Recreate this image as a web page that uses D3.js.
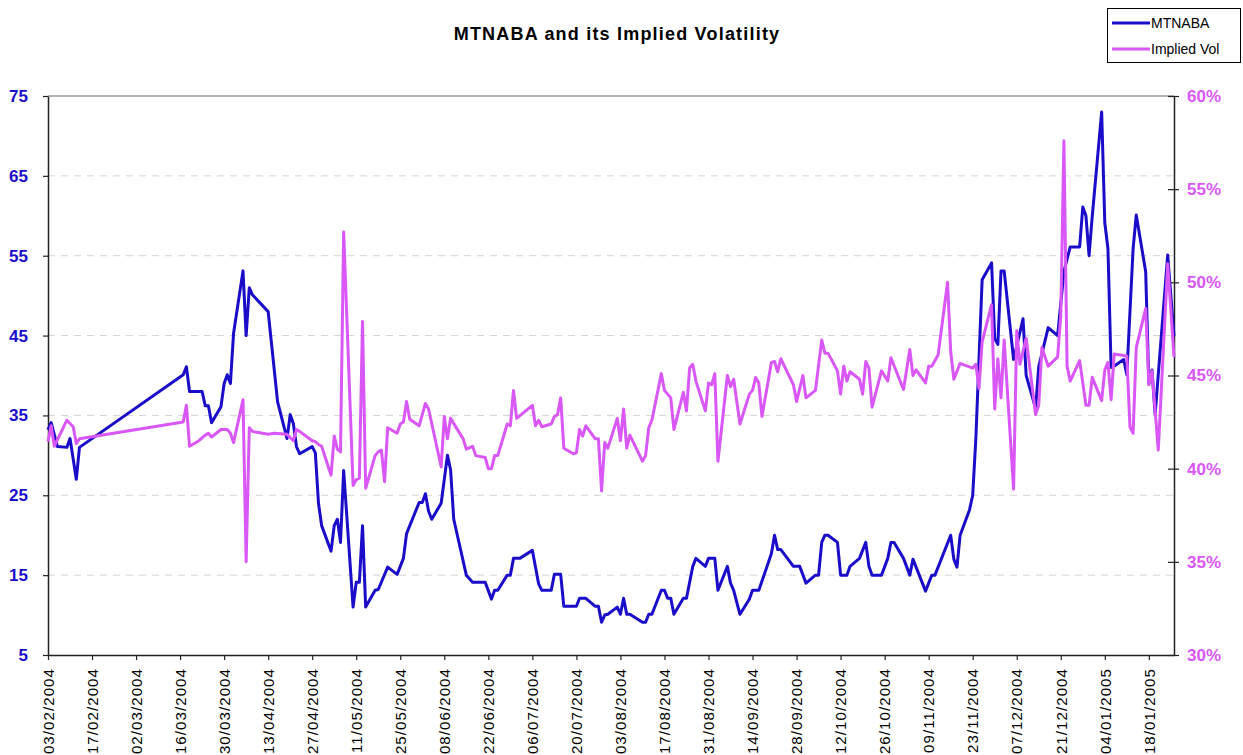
<!DOCTYPE html>
<html>
<head>
<meta charset="utf-8">
<script src="https://cdn.jsdelivr.net/npm/d3@7/dist/d3.min.js"></script>
<style>
  body { margin: 0; background: #fff; }
  svg { font-family: "Liberation Sans", Arial, sans-serif; }
</style>
</head>
<body>
<div id="chart"></div>
<script>
// MTNABA price (left axis)
var priceData = [
  ["2004-02-03",33.2],["2004-02-04",34.1],["2004-02-06",31.1],["2004-02-09",31.0],["2004-02-10",32.1],["2004-02-12",27.0],["2004-02-13",31.0],
  ["2004-03-17",40.1],["2004-03-18",41.1],["2004-03-19",38.0],["2004-03-23",38.0],["2004-03-24",36.2],["2004-03-25",36.2],["2004-03-26",34.1],["2004-03-29",36.1],["2004-03-30",39.0],["2004-03-31",40.1],
  ["2004-04-01",39.0],["2004-04-02",45.3],["2004-04-05",53.1],["2004-04-06",45.0],["2004-04-07",51.0],["2004-04-08",50.1],["2004-04-13",48.0],["2004-04-16",36.7],["2004-04-19",32.1],["2004-04-20",35.1],["2004-04-21",34.0],["2004-04-22",31.1],["2004-04-23",30.2],["2004-04-27",31.1],["2004-04-28",30.3],["2004-04-29",24.0],["2004-04-30",21.2],
  ["2004-05-03",18.0],["2004-05-04",21.2],["2004-05-05",22.0],["2004-05-06",19.1],["2004-05-07",28.1],["2004-05-10",11.0],["2004-05-11",14.1],["2004-05-12",14.1],["2004-05-13",21.2],["2004-05-14",11.0],["2004-05-17",13.1],["2004-05-18",13.2],["2004-05-21",16.0],["2004-05-24",15.1],["2004-05-26",17.1],["2004-05-27",20.2],["2004-05-31",24.1],
  ["2004-06-01",24.1],["2004-06-02",25.2],["2004-06-03",23.0],["2004-06-04",22.0],["2004-06-07",24.0],["2004-06-09",30.0],["2004-06-10",28.2],["2004-06-11",22.0],["2004-06-15",15.0],["2004-06-17",14.1],["2004-06-21",14.1],["2004-06-23",12.0],["2004-06-24",13.1],["2004-06-25",13.1],["2004-06-28",15.0],["2004-06-29",15.0],["2004-06-30",17.1],
  ["2004-07-02",17.1],["2004-07-06",18.1],["2004-07-07",16.0],["2004-07-08",13.9],["2004-07-09",13.1],["2004-07-12",13.1],["2004-07-13",15.1],["2004-07-15",15.1],["2004-07-16",11.1],["2004-07-20",11.1],["2004-07-21",12.1],["2004-07-23",12.1],["2004-07-26",11.1],["2004-07-27",11.1],["2004-07-28",9.1],["2004-07-29",10.0],["2004-07-30",10.1],
  ["2004-08-02",11.0],["2004-08-03",10.1],["2004-08-04",12.1],["2004-08-05",10.1],["2004-08-06",10.1],["2004-08-10",9.1],["2004-08-11",9.1],["2004-08-12",10.1],["2004-08-13",10.1],["2004-08-16",13.1],["2004-08-17",13.1],["2004-08-18",12.1],["2004-08-19",12.1],["2004-08-20",10.1],["2004-08-23",12.1],["2004-08-24",12.1],["2004-08-26",16.1],["2004-08-27",17.1],["2004-08-30",16.1],["2004-08-31",17.1],
  ["2004-09-02",17.1],["2004-09-03",13.1],["2004-09-06",16.1],["2004-09-07",14.0],["2004-09-08",13.1],["2004-09-10",10.1],["2004-09-13",12.0],["2004-09-14",13.1],["2004-09-16",13.1],["2004-09-20",17.7],["2004-09-21",20.0],["2004-09-22",18.2],["2004-09-23",18.2],["2004-09-27",16.1],["2004-09-29",16.1],
  ["2004-10-01",14.0],["2004-10-04",15.0],["2004-10-05",15.0],["2004-10-06",19.1],["2004-10-07",20.0],["2004-10-08",20.0],["2004-10-11",19.1],["2004-10-12",15.0],["2004-10-14",15.0],["2004-10-15",16.1],["2004-10-18",17.1],["2004-10-20",19.1],["2004-10-21",16.1],["2004-10-22",15.0],["2004-10-25",15.0],["2004-10-27",17.1],["2004-10-28",19.1],["2004-10-29",19.1],
  ["2004-11-01",17.1],["2004-11-03",15.0],["2004-11-04",17.0],["2004-11-08",13.0],["2004-11-10",15.0],["2004-11-11",15.0],["2004-11-16",20.0],["2004-11-17",17.0],["2004-11-18",16.0],["2004-11-19",20.0],["2004-11-22",23.2],["2004-11-23",25.0],["2004-11-24",32.1],["2004-11-26",52.0],["2004-11-29",54.1],["2004-11-30",44.6],
  ["2004-12-01",43.9],["2004-12-02",53.1],["2004-12-03",53.1],["2004-12-06",42.0],["2004-12-09",47.1],["2004-12-10",40.0],["2004-12-13",35.9],["2004-12-14",41.1],["2004-12-17",46.0],["2004-12-20",45.0],["2004-12-22",53.0],["2004-12-24",56.1],["2004-12-27",56.1],["2004-12-28",61.1],["2004-12-29",60.0],["2004-12-30",55.0],["2004-12-31",59.9],
  ["2005-01-03",73.0],["2005-01-04",59.1],["2005-01-05",55.9],["2005-01-06",41.0],["2005-01-07",41.2],["2005-01-10",42.0],["2005-01-11",40.1],["2005-01-13",55.9],["2005-01-14",60.1],["2005-01-17",53.0],["2005-01-18",39.0],["2005-01-19",40.7],["2005-01-20",35.1],["2005-01-24",55.1],["2005-01-26",44.9]
];

// implied vol in % (right axis)
var volData = [
  ["2004-02-03",41.45],["2004-02-04",42.3],["2004-02-05",41.2],["2004-02-09",42.6],["2004-02-11",42.25],["2004-02-12",41.35],["2004-02-13",41.6],
  ["2004-03-17",42.5],["2004-03-18",43.4],["2004-03-19",41.2],["2004-03-22",41.5],["2004-03-24",41.8],["2004-03-25",41.9],["2004-03-26",41.7],["2004-03-29",42.1],["2004-03-31",42.1],
  ["2004-04-01",41.9],["2004-04-02",41.4],["2004-04-05",43.7],["2004-04-06",35.0],["2004-04-07",42.2],["2004-04-08",42.0],["2004-04-13",41.85],["2004-04-15",41.9],["2004-04-19",41.85],["2004-04-21",41.5],["2004-04-22",42.1],["2004-04-23",42.0],["2004-04-27",41.5],["2004-04-28",41.45],["2004-04-29",41.3],["2004-04-30",41.2],
  ["2004-05-03",39.65],["2004-05-04",41.75],["2004-05-05",41.05],["2004-05-06",40.9],["2004-05-07",52.7],["2004-05-10",39.1],["2004-05-11",39.4],["2004-05-12",39.5],["2004-05-13",47.9],["2004-05-14",38.95],["2004-05-17",40.7],["2004-05-18",40.9],["2004-05-19",41.0],["2004-05-20",39.3],["2004-05-21",42.2],["2004-05-24",41.9],["2004-05-25",42.4],["2004-05-26",42.5],["2004-05-27",43.6],["2004-05-28",42.65],["2004-05-31",42.3],
  ["2004-06-02",43.5],["2004-06-03",43.2],["2004-06-07",40.1],["2004-06-08",42.8],["2004-06-09",41.6],["2004-06-10",42.7],["2004-06-14",41.6],["2004-06-15",41.05],["2004-06-17",41.2],["2004-06-18",40.7],["2004-06-21",40.6],["2004-06-22",40.0],["2004-06-23",40.0],["2004-06-24",40.7],["2004-06-25",40.7],["2004-06-28",42.4],["2004-06-29",42.3],["2004-06-30",44.2],
  ["2004-07-01",42.7],["2004-07-06",43.4],["2004-07-07",42.3],["2004-07-08",42.6],["2004-07-09",42.25],["2004-07-12",42.4],["2004-07-13",42.8],["2004-07-14",42.9],["2004-07-15",43.8],["2004-07-16",41.1],["2004-07-19",40.8],["2004-07-20",40.85],["2004-07-21",42.1],["2004-07-22",41.75],["2004-07-23",42.3],["2004-07-26",41.6],["2004-07-27",41.6],["2004-07-28",38.8],["2004-07-29",41.4],["2004-07-30",41.1],
  ["2004-08-02",42.7],["2004-08-03",41.5],["2004-08-04",43.2],["2004-08-05",41.1],["2004-08-06",41.8],["2004-08-10",40.4],["2004-08-11",40.7],["2004-08-12",42.2],["2004-08-13",42.6],["2004-08-16",45.1],["2004-08-17",44.2],["2004-08-19",43.8],["2004-08-20",42.1],["2004-08-23",44.1],["2004-08-24",43.1],["2004-08-25",45.4],["2004-08-26",45.6],["2004-08-27",44.7],["2004-08-30",43.1],["2004-08-31",44.6],
  ["2004-09-01",44.5],["2004-09-02",45.1],["2004-09-03",40.4],["2004-09-06",45.0],["2004-09-07",44.4],["2004-09-08",44.8],["2004-09-10",42.4],["2004-09-13",44.0],["2004-09-14",44.2],["2004-09-15",44.9],["2004-09-16",44.6],["2004-09-17",42.8],["2004-09-20",45.7],["2004-09-21",45.75],["2004-09-22",45.2],["2004-09-23",45.9],["2004-09-27",44.5],["2004-09-28",43.6],["2004-09-30",45.0],
  ["2004-10-01",43.8],["2004-10-04",44.2],["2004-10-06",46.9],["2004-10-07",46.2],["2004-10-08",46.2],["2004-10-11",45.25],["2004-10-12",44.0],["2004-10-13",45.5],["2004-10-14",44.7],["2004-10-15",45.2],["2004-10-18",44.8],["2004-10-19",44.0],["2004-10-20",45.75],["2004-10-21",45.4],["2004-10-22",43.3],["2004-10-25",45.25],["2004-10-27",44.7],["2004-10-28",45.95],
  ["2004-11-01",44.25],["2004-11-03",46.4],["2004-11-04",45.0],["2004-11-05",45.3],["2004-11-08",44.6],["2004-11-09",45.5],["2004-11-10",45.5],["2004-11-12",46.1],["2004-11-15",50.0],["2004-11-16",46.3],["2004-11-17",44.8],["2004-11-19",45.65],["2004-11-23",45.4],["2004-11-24",45.6],["2004-11-25",44.3],["2004-11-26",46.8],["2004-11-29",48.8],["2004-11-30",43.2],
  ["2004-12-01",45.9],["2004-12-02",43.8],["2004-12-03",46.9],["2004-12-06",38.9],["2004-12-07",47.4],["2004-12-08",45.6],["2004-12-10",47.0],["2004-12-13",42.9],["2004-12-14",43.4],["2004-12-15",46.5],["2004-12-17",45.5],["2004-12-20",46.0],["2004-12-21",48.2],["2004-12-22",57.6],["2004-12-23",45.5],["2004-12-24",44.7],["2004-12-27",45.8],["2004-12-29",43.4],["2004-12-30",43.4],["2004-12-31",44.9],
  ["2005-01-03",43.65],["2005-01-04",45.3],["2005-01-05",45.7],["2005-01-06",43.7],["2005-01-07",46.15],["2005-01-11",46.05],["2005-01-12",42.25],["2005-01-13",41.9],["2005-01-14",46.5],["2005-01-17",48.6],["2005-01-18",44.5],["2005-01-19",45.25],["2005-01-21",41.0],["2005-01-24",51.0],["2005-01-26",46.0]
];

var xTickLabels = ["03/02/2004","17/02/2004","02/03/2004","16/03/2004","30/03/2004","13/04/2004","27/04/2004",
  "11/05/2004","25/05/2004","08/06/2004","22/06/2004","06/07/2004","20/07/2004","03/08/2004","17/08/2004",
  "31/08/2004","14/09/2004","28/09/2004","12/10/2004","26/10/2004","09/11/2004","23/11/2004","07/12/2004",
  "21/12/2004","04/01/2005","18/01/2005"];
var leftTicks = [5, 15, 25, 35, 45, 55, 65, 75];
var rightTicks = [30, 35, 40, 45, 50, 55, 60];
var seriesNames = ["MTNABA", "Implied Vol"];

function drawChart() {
    var width = 1243, height = 755;
    var plotLeft = 48, plotRight = 1174, plotTop = 96, plotBottom = 655;
    var blue = "#1a0cc8", pink = "#d957f7";

    var parseIso = d3.timeParse("%Y-%m-%d");
    var parseLabel = d3.timeParse("%d/%m/%Y");

    var price = priceData.map(d => ({date: parseIso(d[0]), value: d[1]}));
    var vol = volData.map(d => ({date: parseIso(d[0]), value: d[1]}));

    var svg = d3.select("#chart").append("svg")
        .attr("width", width)
        .attr("height", height);

    var x = d3.scaleTime()
        .domain([parseIso("2004-02-03"), parseIso("2005-01-26")])
        .range([plotLeft, plotRight]);
    var yLeft = d3.scaleLinear().domain([5, 75]).range([plotBottom, plotTop]);
    var yRight = d3.scaleLinear().domain([30, 60]).range([plotBottom, plotTop]);

    /* gridlines */
    svg.append("g").selectAll("line")
        .data(leftTicks.slice(1, -1)).enter()
        .append("line")
        .attr("x1", plotLeft).attr("x2", plotRight)
        .attr("y1", d => yLeft(d)).attr("y2", d => yLeft(d))
        .attr("stroke", "#d4d4d4")
        .attr("stroke-dasharray", "7,6");

    // top border of the plot area
    svg.append("line")
        .attr("x1", plotLeft).attr("x2", plotRight)
        .attr("y1", plotTop).attr("y2", plotTop)
        .attr("stroke", "#9a9a9a").attr("stroke-width", 1.5);

    /* axes */
    var gLeft = svg.append("g")
        .attr("transform", `translate(${plotLeft},0)`)
        .call(d3.axisLeft(yLeft).tickValues(leftTicks).tickSize(5).tickSizeOuter(0).tickPadding(15));
    gLeft.selectAll("text")
        .attr("fill", blue).style("font-size", "17px").style("font-weight", "bold");

    var gRight = svg.append("g")
        .attr("transform", `translate(${plotRight},0)`)
        .call(d3.axisRight(yRight).tickValues(rightTicks).tickSize(5).tickSizeOuter(0).tickPadding(8)
            .tickFormat(d => d + "%"));
    gRight.selectAll(".tick line").attr("x1", -6);
    gRight.selectAll("text")
        .attr("fill", pink).style("font-size", "17px").style("font-weight", "bold");

    var gBottom = svg.append("g")
        .attr("transform", `translate(0,${plotBottom})`)
        .call(d3.axisBottom(x).tickValues(xTickLabels.map(parseLabel)).tickSize(5).tickSizeOuter(0)
            .tickFormat(d3.timeFormat("%d/%m/%Y")));
    gBottom.selectAll("text")
        .attr("transform", "rotate(-90)")
        .attr("x", -13).attr("y", 0).attr("dy", "0.35em")
        .style("text-anchor", "end")
        .style("font-size", "15px")
        .style("letter-spacing", "1.1px")
        .attr("fill", "#000");

    [gLeft, gRight, gBottom].forEach(function(g) {
        g.select(".domain").attr("stroke", "#222").attr("stroke-width", 1.5);
        g.selectAll(".tick line").attr("stroke", "#222").attr("stroke-width", 1.2);
    });

    /* lines */
    var linePrice = d3.line().x(d => x(d.date)).y(d => yLeft(d.value));
    var lineVol = d3.line().x(d => x(d.date)).y(d => yRight(d.value));

    svg.append("path")
        .datum(price)
        .attr("d", linePrice)
        .attr("fill", "none")
        .attr("stroke", blue)
        .attr("stroke-width", 3)
        .attr("stroke-linejoin", "round");

    svg.append("path")
        .datum(vol)
        .attr("d", lineVol)
        .attr("fill", "none")
        .attr("stroke", pink)
        .attr("stroke-width", 3)
        .attr("stroke-linejoin", "round");

    /* title */
    svg.append("text")
        .attr("x", 617).attr("y", 40)
        .attr("text-anchor", "middle")
        .style("font-size", "18px").style("font-weight", "bold")
        .style("letter-spacing", "1.2px")
        .text("MTNABA and its Implied Volatility");

    /* legend */
    var legend = svg.append("g");
    legend.append("rect")
        .attr("x", 1107.5).attr("y", 8.5).attr("width", 133).attr("height", 54)
        .attr("fill", "#fff").attr("stroke", "#000");
    legend.selectAll(".item")
        .data(seriesNames).enter()
        .append("g")
        .attr("transform", (d, i) => `translate(0,${23 + i * 26})`)
        .each(function(d, i) {
            var g = d3.select(this);
            g.append("line")
                .attr("x1", 1112).attr("x2", 1150)
                .attr("stroke", i == 0 ? blue : pink).attr("stroke-width", 3);
            g.append("text")
                .attr("x", 1151).attr("y", 5)
                .style("font-size", "14px")
                .text(d);
        });
}

drawChart();
</script>
</body>
</html>
